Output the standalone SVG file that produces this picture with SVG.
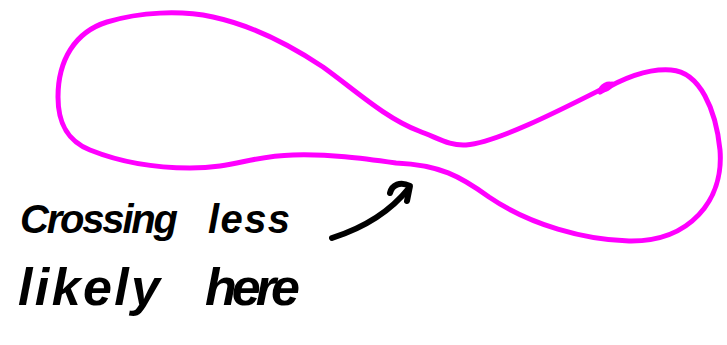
<svg xmlns="http://www.w3.org/2000/svg" width="727" height="345" viewBox="0 0 727 345">
  <style>
    .loop { fill: none; stroke: #ff00ff; stroke-width: 5; stroke-linecap: round; stroke-linejoin: round; }
    .ink { fill: none; stroke: #000000; stroke-width: 6; stroke-linecap: round; stroke-linejoin: round; }
    .hand { font-family: "Liberation Sans", "DejaVu Sans", sans-serif; font-style: italic; font-weight: bold; fill: #000000; }
  </style>
  <rect width="727" height="345" fill="#ffffff"/>
  <g id="loop">
    <path class="loop" d="M 600,92 C 620,80 645,68 671,70 C 700,72 716,110 720,150 C 724,200 690,242 629,241 C 585,240 530,225 489,197 C 460,176 440,165 396,163 C 360,158 330,154 293,155 C 250,156 235,168 190,168 C 150,168 115,160 90,150 C 65,140 58,120 58,97 C 58,60 75,32 107,22 C 140,12 180,10 213,17 C 250,25 290,45 323,67 C 355,90 385,118 419,131 C 440,139 450,146 466,145 C 500,142 570,105 612,84"/>
    <ellipse cx="606" cy="87" rx="8" ry="4.5" transform="rotate(-28 606 87)" fill="#ff00ff"/>
  </g>
  <g id="arrow">
    <path class="ink" d="M 332,238 Q 382,222 409,188"/>
    <path class="ink" d="M 390,193 C 392,185 400,181 410,186 L 407,201"/>
  </g>
  <g id="label">
    <text class="hand" x="20" y="233" font-size="40" textLength="158" lengthAdjust="spacing">Crossing</text>
    <text class="hand" x="208" y="233" font-size="40" textLength="82" lengthAdjust="spacing">less</text>
    <text class="hand" x="18" y="305" font-size="52" textLength="142" lengthAdjust="spacing">likely</text>
    <text class="hand" x="205" y="305" font-size="52" textLength="95" lengthAdjust="spacing">here</text>
  </g>
</svg>
